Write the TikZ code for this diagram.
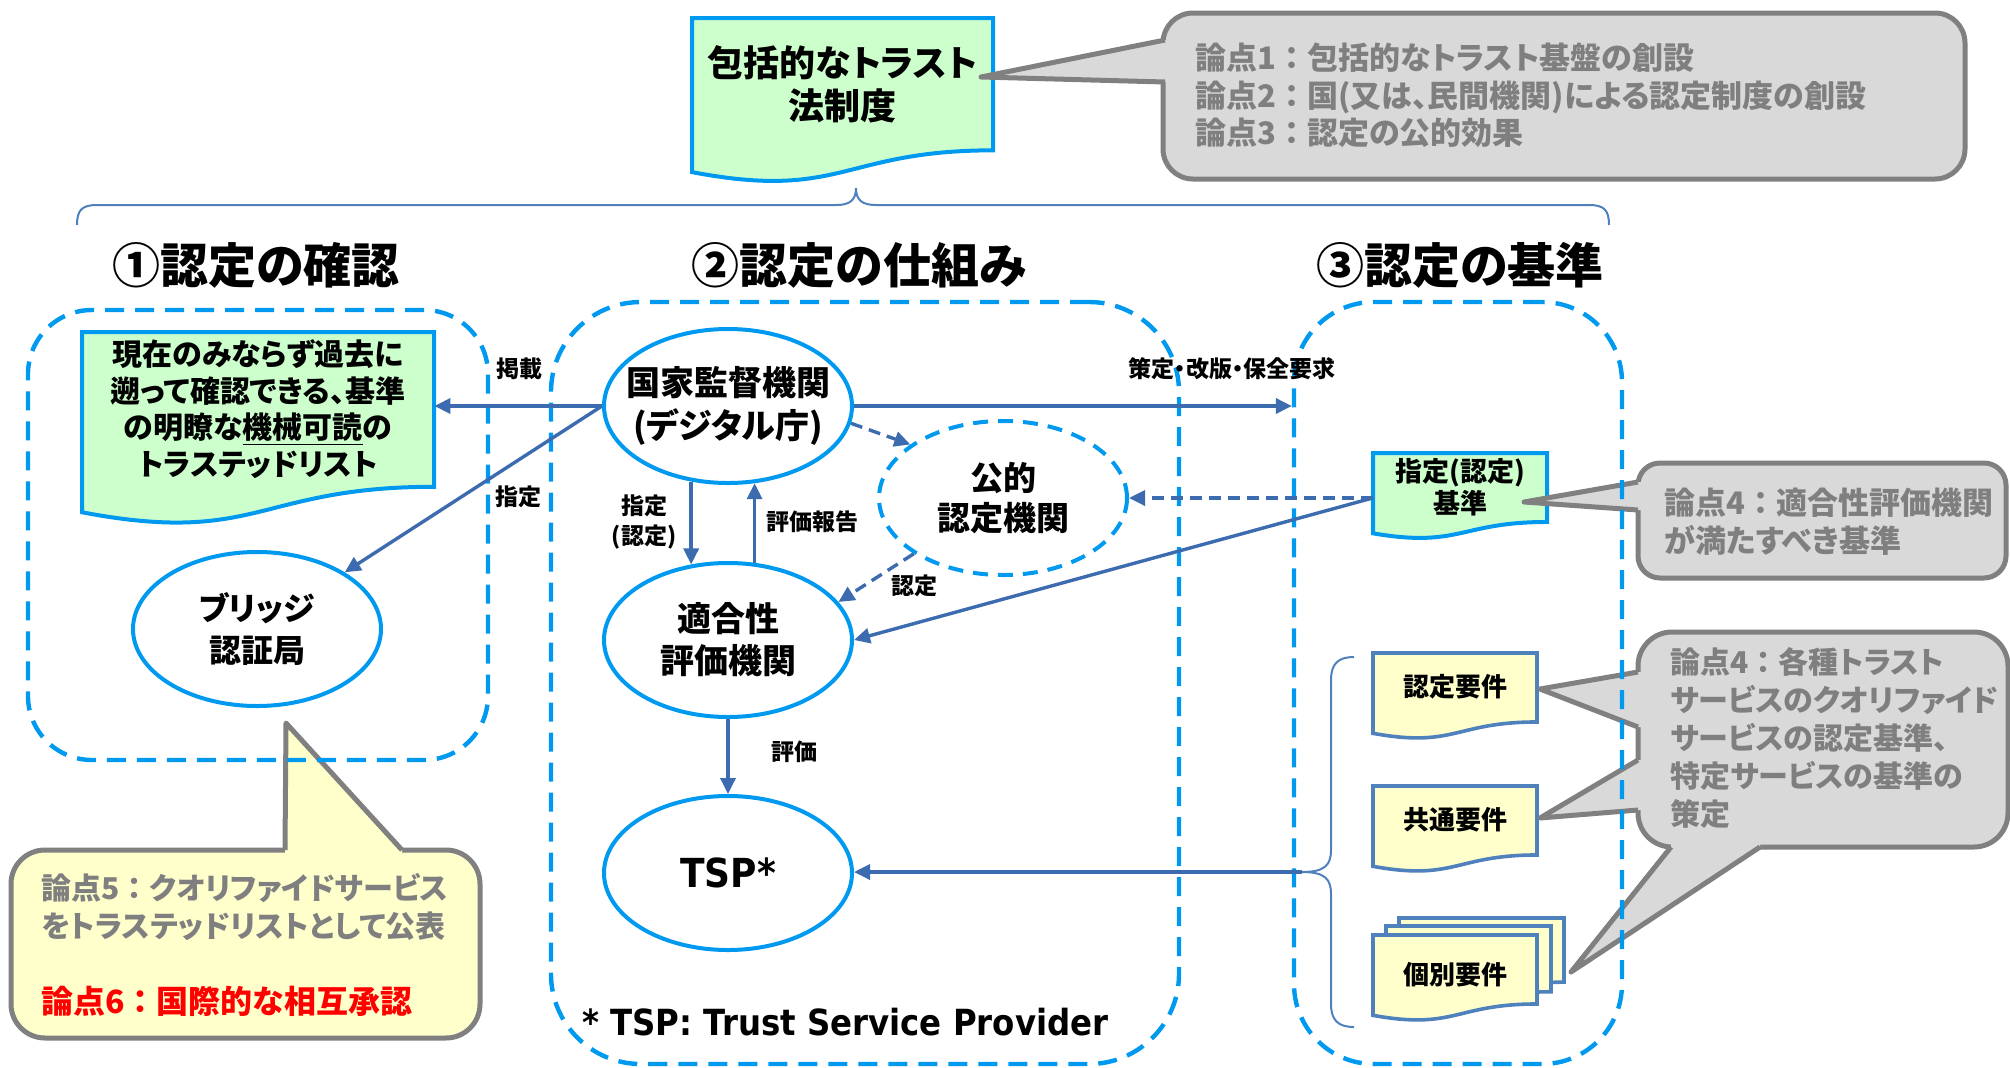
\documentclass[tikz,border=0pt]{standalone}
\usepackage{fontspec}
\setmainfont{Noto Sans CJK JP}[RawFeature=+palt]
\newfontfamily\jpfw{Noto Sans CJK JP}
\newfontfamily\latinb{DejaVu Sans Condensed}[BoldFont={DejaVu Sans Condensed Bold}]
\usetikzlibrary{arrows.meta,shapes.geometric}

\definecolor{nodeblue}{RGB}{0,153,240}
\definecolor{arrowblue}{RGB}{61,107,175}
\definecolor{docgreen}{RGB}{204,255,204}
\definecolor{docyellow}{RGB}{255,255,204}
\definecolor{reqborder}{RGB}{79,129,189}
\definecolor{calloutgray}{RGB}{217,217,217}
\definecolor{calloutline}{RGB}{128,128,128}
\definecolor{notegray}{RGB}{127,127,127}

% full-width colon without proportional spacing
\newcommand{\fwc}{{\jpfw\bfseries ：}}

% flowchart "document" outline: style, left x, top y, width, height
\newcommand{\docshape}[5]{%
  \path[#1] (#2,#3) -- ({#2+#4},#3) -- ({#2+#4},{#3+0.802*#5})
    .. controls ({#2+0.5*#4},{#3+0.802*#5}) and ({#2+0.5*#4},{#3+1.1075*#5})
    .. (#2,{#3+0.934*#5}) -- cycle;}

\tikzset{
  ent/.style={ellipse, draw=nodeblue, line width=2pt, fill=white,
    minimum width=124pt, minimum height=77pt, inner sep=0pt, inner xsep=-15pt,
    align=center, font=\bfseries\fontsize{17}{21.5}\selectfont},
  grp/.style={draw=nodeblue, line width=2.2pt, dash pattern=on 9.5pt off 5.5pt,
    inner sep=0pt},
  flow/.style={draw=arrowblue, line width=1.7pt,
    -{Triangle[length=8pt,width=7.5pt]}},
  flowdash/.style={flow, dash pattern=on 6pt off 3.5pt},
  lbl/.style={font=\bfseries\fontsize{11.5}{15}\selectfont, align=center,
    inner sep=0pt},
  heading/.style={font=\bfseries\fontsize{24}{28}\selectfont, inner sep=0pt},
  doctext/.style={inner sep=0pt, align=center},
  greendoc/.style={draw=nodeblue, line width=2pt, fill=docgreen},
  reqdoc/.style={draw=reqborder, line width=1.8pt, fill=docyellow},
  bracestyle/.style={draw=reqborder, line width=1pt},
  callbox/.style={draw=calloutline, line width=2.5pt},
  calledge/.style={draw=calloutline, line width=2.5pt, line join=round},
  note/.style={text=notegray, font=\bfseries\fontsize{15}{19}\selectfont,
    align=left, inner sep=0pt, anchor=west},
}

\begin{document}
\begin{tikzpicture}[x=0.5pt,y=-0.5pt]
\useasboundingbox (0,0) rectangle (2010,1067);
\fill[white] (0,0) rectangle (2010,1067);

% ---- braces ----
\draw[bracestyle] (77,225) .. controls (77,210) and (82,205) .. (97,205)
  -- (836,205) .. controls (850,205) and (856,200) .. (856,188)
  .. controls (856,200) and (862,205) .. (876,205)
  -- (1589,205) .. controls (1604,205) and (1609,210) .. (1609,225);
\draw[bracestyle] (1354,657) .. controls (1338,657) and (1331,664) .. (1331,680)
  -- (1331,850) .. controls (1331,865) and (1325,872) .. (1302,872)
  .. controls (1325,872) and (1331,879) .. (1331,894)
  -- (1331,1004) .. controls (1331,1020) and (1338,1027) .. (1354,1027);
\coordinate (reqtip) at (1302,872);

% ---- documents ----
\docshape{greendoc}{692}{18}{301}{165}
\node[doctext, font=\bfseries\fontsize{18}{21.5}\selectfont,
  minimum width=150.5pt, minimum height=66pt] (lawdoc) at (842.5,84)
  {包括的なトラスト\\法制度};

\docshape{greendoc}{82}{332}{352}{193}
\node[doctext, font=\bfseries\fontsize{15}{18.25}\selectfont,
  minimum width=176pt, minimum height=77pt] (tlist) at (258,409)
  {現在のみならず過去に\\遡って確認できる、基準\\の明瞭な\underline{機械可読}の\\トラステッドリスト};

\docshape{greendoc}{1373}{453}{174}{86}
\node[doctext, font=\bfseries\fontsize{13.5}{16}\selectfont,
  minimum width=87pt, minimum height=34pt] (kijun) at (1460,487)
  {指定(認定)\\基準};

\docshape{reqdoc}{1373}{653}{164}{86}
\node[doctext, font=\bfseries\fontsize{13}{16}\selectfont] (req1) at (1455,687) {認定要件};

\docshape{reqdoc}{1373}{786}{164}{86}
\node[doctext, font=\bfseries\fontsize{13}{16}\selectfont] (req2) at (1455,820) {共通要件};

\docshape{reqdoc}{1399}{918}{165}{80}
\docshape{reqdoc}{1386}{926}{165}{82}
\docshape{reqdoc}{1373}{935}{164}{86}
\node[doctext, font=\bfseries\fontsize{13}{16}\selectfont] (req3) at (1455,975) {個別要件};

% ---- callouts ----
% top right
\draw[callbox, fill=calloutgray, rounded corners=15pt] (1163,13) rectangle (1965,179);
\fill[calloutgray] (981,77) -- (1165,40) -- (1172,40) -- (1172,82) -- (1165,82) -- cycle;
\draw[calledge] (1165,40) -- (981,77) -- (1165,82);
\node[note, font=\bfseries\fontsize{15.5}{18.75}\selectfont] (note1) at (1195,95.5)
  {論点1\fwc 包括的なトラスト基盤の創設\\
  論点2\fwc 国(又は、民間機関)による認定制度の創設\\
  論点3\fwc 認定の公的効果};

% small right
\draw[callbox, fill=calloutgray, rounded corners=11pt] (1638,463) rectangle (2006,578);
\fill[calloutgray] (1524,502) -- (1638,482) -- (1645,482) -- (1645,510) -- (1638,510) -- cycle;
\draw[calledge] (1638,482) -- (1524,502) -- (1638,510);
\node[note, font=\bfseries\fontsize{15.5}{19}\selectfont] (note4a) at (1664,522)
  {論点4\fwc 適合性評価機関\\が満たすべき基準};

% large right
\draw[callbox, fill=calloutgray, rounded corners=17pt] (1638,632) rectangle (2008,847);
\fill[calloutgray] (1540,689) -- (1638,672) -- (1645,672) -- (1645,727) -- (1638,727) -- cycle;
\fill[calloutgray] (1540,818) -- (1638,760) -- (1645,760) -- (1645,810) -- (1638,810) -- cycle;
\fill[calloutgray] (1571,972) -- (1671,847) -- (1671,840) -- (1760,840) -- (1760,847) -- cycle;
\draw[calledge] (1638,672) -- (1540,689) -- (1638,727);
\draw[calledge] (1638,760) -- (1540,818) -- (1638,810);
\draw[calledge] (1671,847) -- (1571,972) -- (1760,847);
\node[note] (note4b) at (1670,738.5) {論点4\fwc 各種トラスト\\サービスのクオリファイド\\
  サービスの認定基準、\\特定サービスの基準の\\策定};

% lower left
\draw[callbox, fill=docyellow, rounded corners=17pt] (11,850) rectangle (480,1038);
\fill[docyellow] (286,723) -- (285,850) -- (285,857) -- (402,857) -- (402,850) -- cycle;
\draw[calledge] (285,850) -- (286,723) -- (402,850);
\node[note] (note56) at (41,945) {論点5\fwc クオリファイドサービス\\
  をトラステッドリストとして公表\\[19pt]
  \textcolor{red}{\fontsize{16}{19}\selectfont 論点6\fwc 国際的な相互承認}};

% ---- groups ----
\node[grp, rounded corners=32pt, minimum width=230pt, minimum height=225pt] (grp1) at (258,535) {};
\node[grp, rounded corners=45pt, minimum width=314pt, minimum height=381pt] (grp2) at (865,683) {};
\node[grp, rounded corners=40pt, minimum width=164pt, minimum height=381pt] (grp3) at (1458,683) {};

\node[heading] (h1) at (256,265) {①認定の確認};
\node[heading] (h2) at (859,265) {②認定の仕組み};
\node[heading] (h3) at (1460,265) {③認定の基準};

% ---- entities ----
\node[ent] (nsa) at (728,406) {国家監督機関\\(デジタル庁)};
\node[ent, dash pattern=on 7.5pt off 5pt, fill=white,
  font=\bfseries\fontsize{16.5}{20}\selectfont] (kouteki) at (1003,498) {公的\\認定機関};
\node[ent, font=\bfseries\fontsize{17}{21}\selectfont] (conf) at (728,640) {適合性\\評価機関};
\node[ent, font=\latinb\bfseries\fontsize{20}{24}\selectfont] (tsp) at (728,873) {TSP*};
\node[ent, font=\bfseries\fontsize{16}{21}\selectfont] (bridge) at (257,629) {ブリッジ\\認証局};

% ---- connectors ----
\draw[flow] (nsa.west) -- (nsa.west -| tlist.east);
\draw[flow] (nsa.west) -- (bridge);
\draw[flow] (nsa.east) -- (nsa.east -| grp3.west);
\draw[flowdash] (nsa.-8) -- (kouteki.150);
\draw[flow] (nsa.244) -- (conf.116);
\draw[flow] (conf.71) -- (nsa.289);
\draw[flowdash] ([yshift=-5.5pt]kijun.west) -- (kouteki.east);
\draw[flow] ([yshift=-5.5pt]kijun.west) -- (conf.east);
\draw[flowdash] (kouteki.212) -- (conf.19);
\draw[flow] (conf.south) -- (tsp.north);
\draw[flow] (reqtip) -- (reqtip -| tsp.east);

% ---- connector labels ----
\node[lbl] (l1) at (519,369) {掲載};
\node[lbl] (l2) at (518,497) {指定};
\node[lbl] (l3) at (1232,369) {策定・改版・保全要求};
\node[lbl] (l4) at (644,522) {指定\\(認定)};
\node[lbl] (l5) at (812,522) {評価報告};
\node[lbl] (l6) at (914,586) {認定};
\node[lbl] (l7) at (794,752) {評価};

\node[anchor=west, inner sep=0pt, font=\latinb\bfseries\fontsize{18}{22}\selectfont]
  (foot) at (582,1022) {* TSP: Trust Service Provider};
\end{tikzpicture}
\end{document}
